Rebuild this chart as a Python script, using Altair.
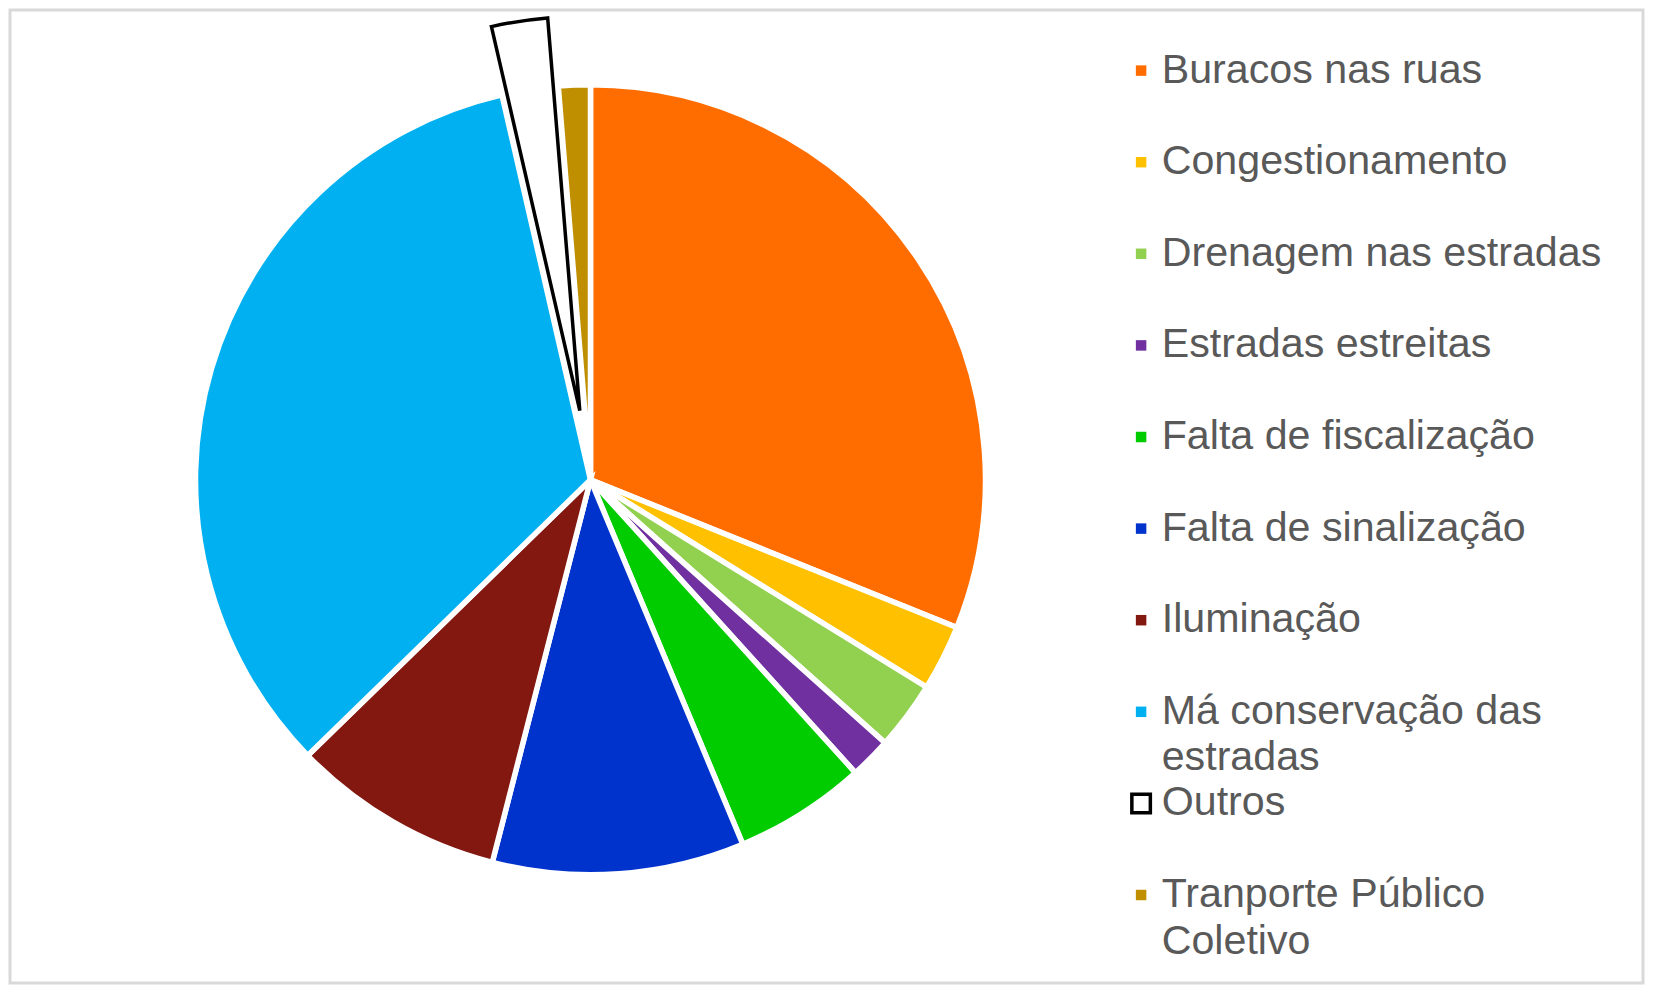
import altair as alt
import pandas as pd

categorias = [
    "Buracos nas ruas",
    "Congestionamento",
    "Drenagem nas estradas",
    "Estradas estreitas",
    "Falta de fiscalização",
    "Falta de sinalização",
    "Iluminação",
    "Má conservação das estradas",
    "Outros",
    "Tranporte Público Coletivo",
]
valores = [31.1, 2.7, 2.8, 1.7, 5.4, 10.3, 8.7, 33.7, 2.3, 1.3]
cores = ["#FF6D00", "#FFC000", "#92D050", "#7030A0", "#00CC00",
         "#0033CC", "#821810", "#00B0F0", "#FFFFFF", "#BF8F00"]

df = pd.DataFrame({"categoria": categorias, "valor": valores,
                   "ordem": list(range(len(categorias)))})

CX, CY, R = 580.5, 469.8, 395
DX, DY = -10.7, -69.2  # explode offset for "Outros"

label_expr = (
    "datum.label == 'Má conservação das estradas' ? ['Má conservação das', 'estradas'] : "
    "datum.label == 'Tranporte Público Coletivo' ? ['Tranporte Público', 'Coletivo'] : datum.label"
)

legend = alt.Legend(
    title=None,
    orient="none",
    legendX=1109,
    legendY=40,
    padding=0,
    symbolType="square",
    symbolSize=alt.ExprRef("datum.value == 'Outros' ? 342 : 110"),
    symbolStrokeColor=alt.ExprRef("datum.value == 'Outros' ? 'black' : 'transparent'"),
    symbolStrokeWidth=alt.ExprRef("datum.value == 'Outros' ? 3.5 : 0"),
    symbolOffset=1.5,
    labelOffset=0,
    labelFont="Liberation Sans",
    labelFontSize=41.2,
    labelColor="#595959",
    labelLimit=0,
    labelExpr=label_expr,
    gridAlign="all",
    rowPadding=2.6,
)

color = alt.Color("categoria:N", scale=alt.Scale(domain=categorias, range=cores),
                  legend=legend)

base = alt.Chart(df).mark_arc().encode(
    theta=alt.Theta("valor:Q", stack=True),
    order=alt.Order("ordem:Q"),
    color=color,
    x=alt.value(CX),
    y=alt.value(CY),
    radius=alt.value(R),
    stroke=alt.value("white"),
    strokeWidth=alt.value(5.5),
    opacity=alt.condition("datum.categoria == 'Outros'", alt.value(0), alt.value(1)),
)

exploded = alt.Chart(df).mark_arc().encode(
    theta=alt.Theta("valor:Q", stack=True),
    order=alt.Order("ordem:Q"),
    color=alt.Color("categoria:N", scale=alt.Scale(domain=categorias, range=cores),
                    legend=None),
    x=alt.value(CX + DX),
    y=alt.value(CY + DY),
    radius=alt.value(R - 1),
    stroke=alt.value("black"),
    strokeWidth=alt.value(3.5),
    opacity=alt.condition("datum.categoria == 'Outros'", alt.value(1), alt.value(0)),
)

config = alt.Config(
    view=alt.ViewConfig(stroke="#d9d9d9", strokeWidth=3),
    style={"guide-label": {"lineHeight": 46.5}},
)

chart = alt.layer(base, exploded, config=config).properties(
    width=1633, height=973, padding=2, autosize=alt.AutoSizeParams(type="none")
)

chart.save("out.html", embed_options={"renderer": "svg", "actions": False})
